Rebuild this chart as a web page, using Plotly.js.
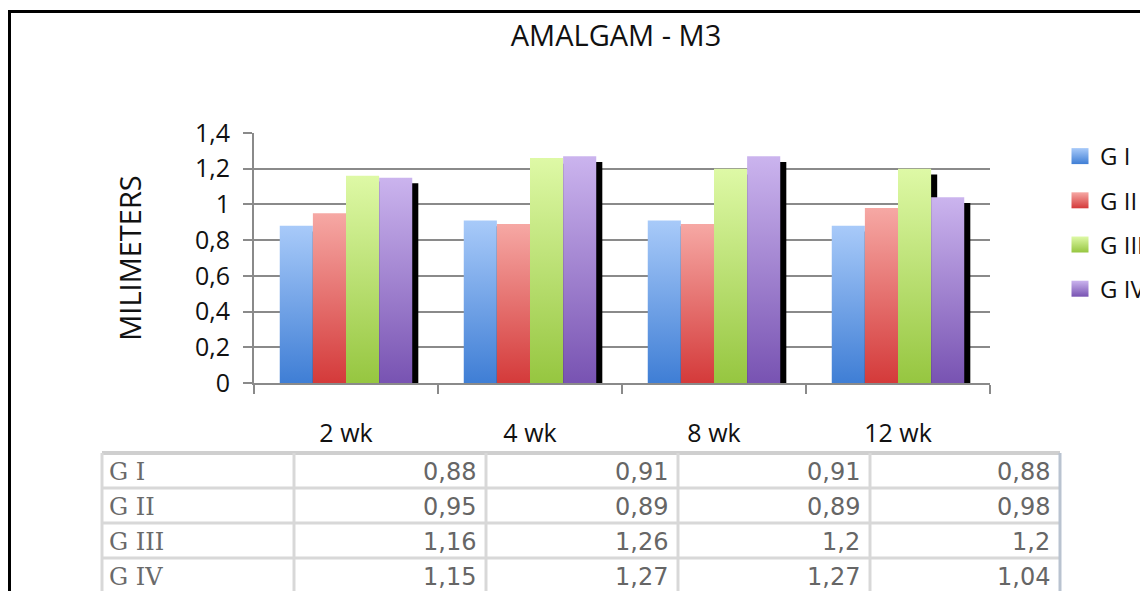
<!DOCTYPE html>
<html>
<head>
<meta charset="utf-8">
<script src="https://cdn.plot.ly/plotly-3.0.1.min.js"></script>
<style>
html,body{margin:0;padding:0;background:#fff;overflow:hidden;}
#chart{width:1140px;height:591px;}
</style>
</head>
<body>
<div id="chart"></div>
<script>
// ---- data ----
const categories = ['2 wk', '4 wk', '8 wk', '12 wk'];
const seriesNames = ['G I', 'G II', 'G III', 'G IV'];
const gI   = [0.88, 0.91, 0.91, 0.88];
const gII  = [0.95, 0.89, 0.89, 0.98];
const gIII = [1.16, 1.26, 1.2, 1.2];
const gIV  = [1.15, 1.27, 1.27, 1.04];
const yTickValues = [0, 0.2, 0.4, 0.6, 0.8, 1, 1.2, 1.4];

const seriesValues = [gI, gII, gIII, gIV];

// ---- styling / geometry ----
const W = 1140, H = 591;
const L = 254, R = 990, T = 133, B = 383;
const px2x = p => (p - L) / (R - L);
const py2y = p => (B - p) / (B - T);

const baseColors = ['#6a9ce6', '#e06460', '#b8e070', '#9c80cc'];
const gradStops = [
  ['#a8caf9', '#3f7ed5'],
  ['#f6a8a4', '#d43a3a'],
  ['#def9a6', '#96c640'],
  ['#cbb4ee', '#7853b2']
];
const barW = 0.18;
const startOff = -0.36;
const shadowDx = 0.033;
const shadowDy = -0.032;

const traces = [];
// shadows first
seriesValues.forEach((vals, i) => {
  traces.push({
    type: 'bar', x: categories, y: vals,
    base: vals.map(() => shadowDy),
    offset: startOff + i * barW + shadowDx, width: barW,
    marker: {color: '#000'},
    showlegend: false, hoverinfo: 'skip'
  });
});
seriesValues.forEach((vals, i) => {
  traces.push({
    type: 'bar', x: categories, y: vals, name: seriesNames[i],
    offset: startOff + i * barW, width: barW,
    marker: {color: baseColors[i]},
    legendgroup: 'g' + i
  });
});

// ---- table ----
const colEdges = [102, 294, 486, 678, 870, 1060];
const rowEdges = [453, 488, 523, 558, 593];
const shapes = [];
const annotations = [];

// frame
shapes.push({type: 'rect', xref: 'paper', yref: 'paper',
  x0: px2x(9.5), x1: px2x(1400), y0: py2y(900), y1: py2y(11.5),
  line: {color: '#000', width: 3}, fillcolor: 'rgba(0,0,0,0)', layer: 'below'});

rowEdges.forEach((ry, k) => {
  shapes.push({type: 'line', xref: 'paper', yref: 'paper',
    x0: px2x(colEdges[0]), x1: px2x(colEdges[colEdges.length - 1]),
    y0: py2y(ry), y1: py2y(ry),
    line: {color: k === 0 ? '#cfcfcf' : '#d8d8d8', width: k === 0 ? 4 : 3}});
});
colEdges.forEach((cx, k) => {
  shapes.push({type: 'line', xref: 'paper', yref: 'paper',
    x0: px2x(cx), x1: px2x(cx), y0: py2y(rowEdges[0]), y1: py2y(600),
    line: {color: k === colEdges.length - 1 ? '#b9c3d0' : '#d8d8d8', width: 3}});
});

seriesValues.forEach((vals, i) => {
  const cy = (rowEdges[i] + rowEdges[i + 1]) / 2 + 1;
  annotations.push({xref: 'paper', yref: 'paper', x: px2x(colEdges[0] + 5), y: py2y(cy),
    xanchor: 'left', yanchor: 'middle', showarrow: false, text: seriesNames[i],
    font: {family: 'DejaVu Serif', size: 24, color: '#6a6a6a'}});
  vals.forEach((v, j) => {
    annotations.push({xref: 'paper', yref: 'paper', x: px2x(colEdges[j + 2] - 8), y: py2y(cy),
      xanchor: 'right', yanchor: 'middle', showarrow: false,
      text: String(v).replace('.', ','),
      font: {family: 'DejaVu Sans', size: 24, color: '#666666'}});
  });
});

const layout = {
  width: W, height: H,
  margin: {l: L, r: W - R, t: T, b: H - B, pad: 0, autoexpand: false},
  paper_bgcolor: '#fff', plot_bgcolor: '#fff',
  separators: ', ',
  barmode: 'overlay',
  font: {family: 'Open Sans', color: '#111'},
  title: {text: 'AMALGAM - M3', x: 616 / W, xanchor: 'center', y: 1 - 36 / H, yanchor: 'middle',
    font: {family: 'Open Sans', size: 29, color: '#111'}},
  xaxis: {type: 'category', range: [-0.5, 3.5], showline: true, linecolor: '#8a8a8a', linewidth: 2,
    ticks: 'outside', tickson: 'boundaries', ticklen: 9, tickwidth: 2, tickcolor: '#8a8a8a',
    ticklabelstandoff: 27, showgrid: false, zeroline: false,
    tickfont: {family: 'Open Sans', size: 25, color: '#111'}},
  yaxis: {range: [0, 1.4], tickvals: yTickValues, showline: true, linecolor: '#8a8a8a', linewidth: 2,
    ticks: 'outside', ticklen: 9, tickwidth: 2, tickcolor: '#8a8a8a',
    showgrid: true, gridcolor: '#8a8a8a', gridwidth: 2, zeroline: false,
    ticklabelstandoff: 8,
    tickfont: {family: 'Open Sans', size: 25, color: '#111'},
    title: {text: 'MILIMETERS', standoff: 45, font: {family: 'Open Sans', size: 29, color: '#111'}}},
  legend: {x: px2x(1060), xanchor: 'left', y: py2y(134), yanchor: 'top',
    traceorder: 'grouped', tracegroupgap: 10, bgcolor: 'rgba(0,0,0,0)',
    font: {family: 'Open Sans', size: 24, color: '#111'}},
  shapes: shapes,
  annotations: annotations,
  showlegend: true
};

Plotly.newPlot('chart', traces, layout, {displayModeBar: false, staticPlot: true}).then(gd => {
  const NS = 'http://www.w3.org/2000/svg';
  const svg = gd.querySelector('svg.main-svg');
  let defs = svg.querySelector('defs');
  if (!defs) { defs = document.createElementNS(NS, 'defs'); svg.insertBefore(defs, svg.firstChild); }
  gradStops.forEach((st, i) => {
    const lg = document.createElementNS(NS, 'linearGradient');
    lg.setAttribute('id', 'barGrad' + i);
    lg.setAttribute('x1', '0'); lg.setAttribute('y1', '0');
    lg.setAttribute('x2', '0'); lg.setAttribute('y2', '1');
    [[0, st[0]], [1, st[1]]].forEach(([o, c]) => {
      const s = document.createElementNS(NS, 'stop');
      s.setAttribute('offset', o); s.setAttribute('stop-color', c);
      lg.appendChild(s);
    });
    defs.appendChild(lg);
  });
  const barTraces = gd.querySelectorAll('.barlayer .trace.bars');
  barTraces.forEach((tr, idx) => {
    if (idx >= 4) {
      tr.querySelectorAll('path').forEach(p => { p.style.fill = 'url(#barGrad' + (idx - 4) + ')'; });
    }
  });
  const legPts = gd.querySelectorAll('.legend .traces');
  legPts.forEach((tr, i) => {
    tr.querySelectorAll('.legendpoints path').forEach(p => {
      p.setAttribute('d', 'M8.5,8H-8.5V-8H8.5Z');
      p.style.fill = 'url(#barGrad' + i + ')';
    });
  });
});
</script>
</body>
</html>
